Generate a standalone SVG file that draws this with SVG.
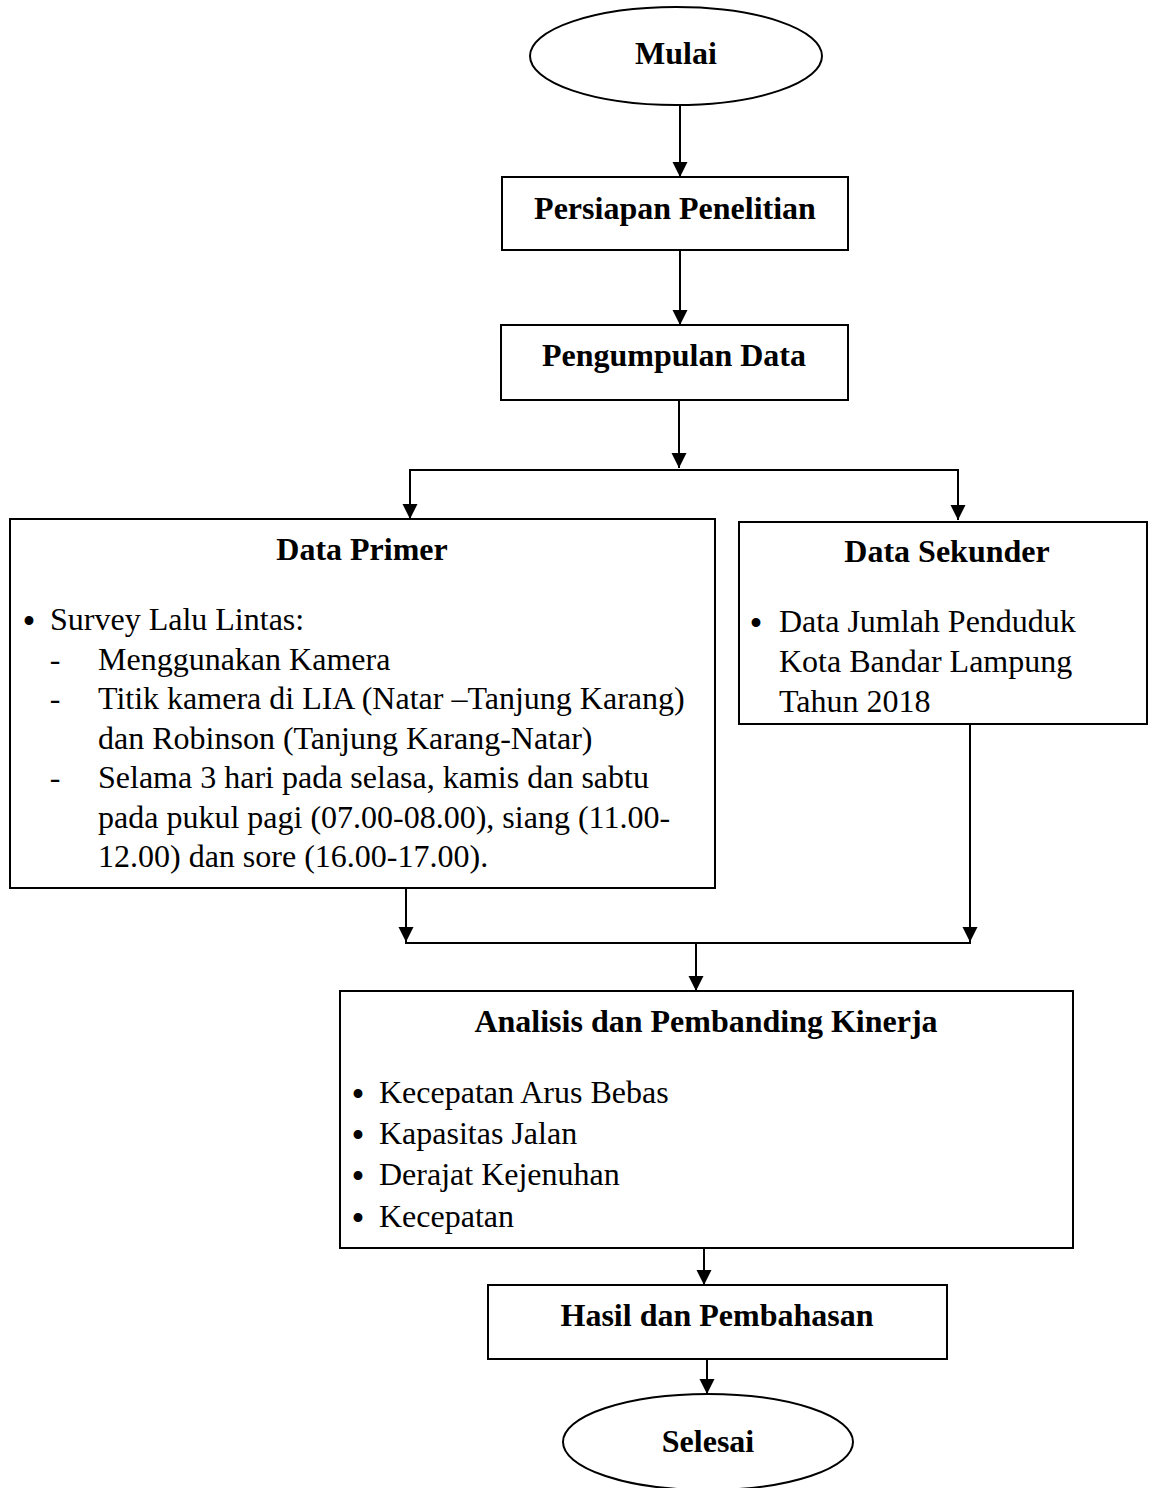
<svg xmlns="http://www.w3.org/2000/svg" width="1149" height="1488" viewBox="0 0 1149 1488">
<style>
.shape{fill:#fff;stroke:#000;stroke-width:2}
.t{font-family:"Liberation Serif","Times New Roman",serif;font-size:32px;fill:#000}
.b{font-weight:bold;text-anchor:middle}
.c{fill:none;stroke:#000;stroke-width:2}
.m{text-anchor:middle}
.bl{font-family:"Liberation Serif","Times New Roman",serif;font-size:37px;fill:#000;text-anchor:middle}
</style>
<defs>
<marker id="ah" markerUnits="userSpaceOnUse" markerWidth="16" markerHeight="18" refX="15" refY="7.5" orient="auto">
<path d="M0,0 L15,7.5 L0,15 z" fill="#000"/>
</marker>
</defs>
<rect width="1149" height="1488" fill="#fff"/>
<g id="connectors">
<line class="c" x1="680" y1="105" x2="680" y2="177" marker-end="url(#ah)"/>
<line class="c" x1="680" y1="250" x2="680" y2="325" marker-end="url(#ah)"/>
<line class="c" x1="679" y1="400" x2="679" y2="468" marker-end="url(#ah)"/>
<line class="c" x1="409" y1="470" x2="959" y2="470"/>
<line class="c" x1="410" y1="470" x2="410" y2="519" marker-end="url(#ah)"/>
<line class="c" x1="958" y1="470" x2="958" y2="520" marker-end="url(#ah)"/>
<line class="c" x1="406" y1="888" x2="406" y2="942" marker-end="url(#ah)"/>
<line class="c" x1="970" y1="724" x2="970" y2="942" marker-end="url(#ah)"/>
<line class="c" x1="405" y1="943" x2="971" y2="943"/>
<line class="c" x1="696" y1="943" x2="696" y2="991" marker-end="url(#ah)"/>
<line class="c" x1="704" y1="1248" x2="704" y2="1285" marker-end="url(#ah)"/>
<line class="c" x1="707" y1="1359" x2="707" y2="1394" marker-end="url(#ah)"/>
</g>
<g id="mulai">
<ellipse class="shape" cx="676" cy="56" rx="146" ry="49"/>
<text class="t b" x="676" y="64">Mulai</text>
</g>
<g id="persiapan">
<rect class="shape" x="502" y="177" width="346" height="73"/>
<text class="t b" x="675" y="219">Persiapan Penelitian</text>
</g>
<g id="pengumpulan">
<rect class="shape" x="501" y="325" width="347" height="75"/>
<text class="t b" x="674" y="366">Pengumpulan Data</text>
</g>
<g id="data-primer">
<rect class="shape" x="10" y="519" width="705" height="369"/>
<text class="t b" x="362" y="560">Data Primer</text>
<text class="bl" x="29" y="634">•</text>
<text class="t" x="50" y="630">Survey Lalu Lintas:</text>
<text class="t m" x="55" y="669.5">-</text>
<text class="t" x="98" y="669.5">Menggunakan Kamera</text>
<text class="t m" x="55" y="709">-</text>
<text class="t" x="98" y="709">Titik kamera di LIA (Natar –Tanjung Karang)</text>
<text class="t" x="98" y="748.5">dan Robinson (Tanjung Karang-Natar)</text>
<text class="t m" x="55" y="788">-</text>
<text class="t" x="98" y="788">Selama 3 hari pada selasa, kamis dan sabtu</text>
<text class="t" x="98" y="827.5">pada pukul pagi (07.00-08.00), siang (11.00-</text>
<text class="t" x="98" y="867">12.00) dan sore (16.00-17.00).</text>
</g>
<g id="data-sekunder">
<rect class="shape" x="739" y="522" width="408" height="202"/>
<text class="t b" x="947" y="562">Data Sekunder</text>
<text class="bl" x="756" y="636">•</text>
<text class="t" x="779" y="632">Data Jumlah Penduduk</text>
<text class="t" x="779" y="672">Kota Bandar Lampung</text>
<text class="t" x="779" y="712">Tahun 2018</text>
</g>
<g id="analisis">
<rect class="shape" x="340" y="991" width="733" height="257"/>
<text class="t b" x="706" y="1032">Analisis dan Pembanding Kinerja</text>
<text class="bl" x="358" y="1107">•</text>
<text class="t" x="379" y="1103">Kecepatan Arus Bebas</text>
<text class="bl" x="358" y="1148">•</text>
<text class="t" x="379" y="1144">Kapasitas Jalan</text>
<text class="bl" x="358" y="1189">•</text>
<text class="t" x="379" y="1185">Derajat Kejenuhan</text>
<text class="bl" x="358" y="1231">•</text>
<text class="t" x="379" y="1227">Kecepatan</text>
</g>
<g id="hasil">
<rect class="shape" x="488" y="1285" width="459" height="74"/>
<text class="t b" x="717" y="1326">Hasil dan Pembahasan</text>
</g>
<g id="selesai">
<ellipse class="shape" cx="708" cy="1442" rx="145" ry="48"/>
<text class="t b" x="708" y="1452">Selesai</text>
</g>
</svg>
